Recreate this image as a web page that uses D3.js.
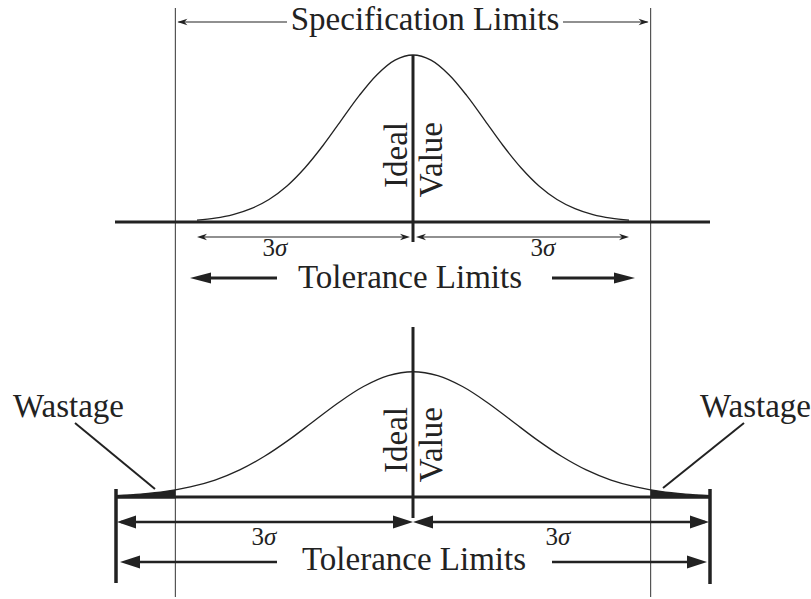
<!DOCTYPE html>
<html>
<head>
<meta charset="utf-8">
<script src="https://cdn.jsdelivr.net/npm/d3@7"></script>
<style>
  html, body { margin: 0; padding: 0; background: #fff; }
  svg { display: block; }
</style>
</head>
<body>
<svg id="chart" width="811" height="599"></svg>
<script>
// ---------- data ----------
// standardized positions (in sigma units) along the curve
const zSteps = [-3, -2.75, -2.5, -2.25, -2, -1.75, -1.5, -1.25, -1, -0.75, -0.5, -0.25, 0,
                0.25, 0.5, 0.75, 1, 1.25, 1.5, 1.75, 2, 2.25, 2.5, 2.75, 3];
// relative curve heights (peak = 1)
const curveHeights = [0.011, 0.023, 0.044, 0.080, 0.135, 0.216, 0.325, 0.458, 0.607, 0.755, 0.882, 0.969, 1.0,
                      0.969, 0.882, 0.755, 0.607, 0.458, 0.325, 0.216, 0.135, 0.080, 0.044, 0.023, 0.011];
const idealValue = 0;
const processSigma = [1.0, 1.375];      // top panel, bottom panel
const processPeak = [1.0, 0.75];        // relative peak height of each curve
const specLimits = [-3.3, 3.3];
const sigmaLabel = "3";
const texts = {
  spec: "Specification Limits",
  tol: "Tolerance Limits",
  ideal: "Ideal",
  value: "Value",
  waste: "Wastage"
};

// ---------- layout ----------
const svg = d3.select("#chart");
const FONT = "'Liberation Serif', 'Times New Roman', serif";
const INK = "#222";

const x = d3.scaleLinear().domain([-4.125, 4.125]).range([116, 710]);
const yTop = d3.scaleLinear().domain([0, 1]).range([222, 55]);
const yBot = d3.scaleLinear().domain([0, 1]).range([497, 330]);

function head(g, tipX, y, dir, len, hw, notch) {
  // dir = -1 points left, +1 points right
  const bx = tipX - dir * len;
  const nx = tipX - dir * len * (1 - notch);
  g.append("path")
    .attr("d", `M${tipX},${y} L${bx},${y - hw} L${nx},${y} L${bx},${y + hw} Z`)
    .attr("fill", INK);
}
function shaft(g, x1, x2, y, w) {
  g.append("line").attr("x1", x1).attr("x2", x2).attr("y1", y).attr("y2", y)
    .attr("stroke", INK).attr("stroke-width", w);
}
function vline(g, xx, y1, y2, w, col) {
  g.append("line").attr("x1", xx).attr("x2", xx).attr("y1", y1).attr("y2", y2)
    .attr("stroke", col || INK).attr("stroke-width", w);
}
function label(g, txt, xx, yy, size, anchor) {
  return g.append("text").attr("x", xx).attr("y", yy)
    .attr("font-family", FONT).attr("font-size", size)
    .attr("text-anchor", anchor || "middle").attr("fill", INK).text(txt);
}
function sigmaText(g, xx, yy) {
  const t = g.append("text").attr("x", xx).attr("y", yy)
    .attr("font-family", FONT).attr("font-size", 25)
    .attr("text-anchor", "middle").attr("fill", INK);
  t.append("tspan").text(sigmaLabel);
  t.append("tspan").attr("font-style", "italic").text("σ");
}

const g = svg.append("g");

// specification limit verticals
specLimits.forEach(s => vline(g, x(s), 8, 597, 1.2, "#555"));

// specification limits arrows + text
label(g, texts.spec, 425, 30, 33);
shaft(g, x(specLimits[0]) + 3, 287, 22, 1.2);
head(g, x(specLimits[0]) + 2, 22, -1, 10, 3.2, 0.3);
shaft(g, 563, x(specLimits[1]) - 3, 22, 1.2);
head(g, x(specLimits[1]) - 2, 22, 1, 10, 3.2, 0.3);

// ---------- top panel ----------
const lineTop = d3.line()
  .x((d, i) => x(idealValue + zSteps[i] * processSigma[0]))
  .y((d) => yTop(d * processPeak[0]))
  .curve(d3.curveCatmullRom);
g.append("path").attr("d", lineTop(curveHeights))
  .attr("fill", "none").attr("stroke", INK).attr("stroke-width", 1.3);

shaft(g, x(-4.125) - 1, x(4.125), yTop(0), 3);
vline(g, x(idealValue), yTop(1), 242, 3);

// ideal / value rotated
g.append("text").attr("transform", `translate(${x(idealValue) - 6},122) rotate(-90)`)
  .attr("font-family", FONT).attr("font-size", 33).attr("text-anchor", "start")
  .attr("fill", INK).attr("x", 0).text(texts.ideal)
  .attr("dx", -66);
g.append("text").attr("transform", `translate(${x(idealValue) + 29},122) rotate(-90)`)
  .attr("font-family", FONT).attr("font-size", 33).attr("text-anchor", "end")
  .attr("fill", INK).text(texts.value);

// 3 sigma arrows (top)
const tL = x(idealValue - 3 * processSigma[0]);
const tR = x(idealValue + 3 * processSigma[0]);
shaft(g, tL + 3, x(idealValue) - 6, 237, 1.2);
head(g, tL, 237, -1, 10, 3.2, 0.3);
head(g, x(idealValue) - 3, 237, 1, 10, 3.2, 0.3);
shaft(g, x(idealValue) + 6, tR - 3, 237, 1.2);
head(g, x(idealValue) + 3, 237, -1, 10, 3.2, 0.3);
head(g, tR, 237, 1, 10, 3.2, 0.3);
sigmaText(g, 275, 256);
sigmaText(g, 543, 256);

// tolerance limits (top)
label(g, texts.tol, 410, 288, 33);
shaft(g, 200, 277, 278, 3);
head(g, 190, 278, -1, 21, 5.5, 0);
shaft(g, 552, 625, 278, 3);
head(g, 635, 278, 1, 21, 5.5, 0);

// ---------- bottom panel ----------
const bx = (i) => x(idealValue + zSteps[i] * processSigma[1]);
const lineBot = d3.line()
  .x((d, i) => bx(i))
  .y((d) => yBot(d * processPeak[1]))
  .curve(d3.curveCatmullRom);
const areaBot = d3.area()
  .x((d, i) => bx(i))
  .y0(yBot(0) + 1.5)
  .y1((d) => yBot(d * processPeak[1]))
  .curve(d3.curveCatmullRom);

const defs = svg.append("defs");
const clip = defs.append("clipPath").attr("id", "waste");
clip.append("rect").attr("x", 0).attr("y", 0).attr("width", x(specLimits[0])).attr("height", 599);
clip.append("rect").attr("x", x(specLimits[1])).attr("y", 0).attr("width", 811 - x(specLimits[1])).attr("height", 599);

g.append("path").attr("d", areaBot(curveHeights)).attr("fill", INK).attr("clip-path", "url(#waste)");
g.append("path").attr("d", lineBot(curveHeights))
  .attr("fill", "none").attr("stroke", INK).attr("stroke-width", 1.3);

shaft(g, x(-4.125), x(4.125), yBot(0), 3);
vline(g, x(idealValue), 327, 518, 3);
vline(g, x(-4.125), 489, 583, 3.5);
vline(g, x(4.125), 489, 584, 3.5);

g.append("text").attr("transform", `translate(${x(idealValue) - 6},407) rotate(-90)`)
  .attr("font-family", FONT).attr("font-size", 33).attr("text-anchor", "end")
  .attr("fill", INK).text(texts.ideal).attr("dx", 0);
g.append("text").attr("transform", `translate(${x(idealValue) + 29},407) rotate(-90)`)
  .attr("font-family", FONT).attr("font-size", 33).attr("text-anchor", "end")
  .attr("fill", INK).text(texts.value);

// 3 sigma arrows (bottom)
const bL = x(idealValue - 3 * processSigma[1]);
const bR = x(idealValue + 3 * processSigma[1]);
shaft(g, bL + 5, x(idealValue) - 10, 522, 2.6);
head(g, bL + 1, 522, -1, 19, 6.5, 0);
head(g, x(idealValue), 522, 1, 20, 6.5, 0);
shaft(g, x(idealValue) + 10, bR - 5, 522, 2.6);
head(g, x(idealValue), 522, -1, 20, 6.5, 0);
head(g, bR - 1, 522, 1, 19, 6.5, 0);
sigmaText(g, 264, 545);
sigmaText(g, 558, 545);

// tolerance limits (bottom)
label(g, texts.tol, 414, 570, 33);
shaft(g, 130, 277, 562, 2.6);
head(g, 120, 562, -1, 20, 6.5, 0);
shaft(g, 552, 697, 562, 2.6);
head(g, 707, 562, 1, 20, 6.5, 0);

// wastage labels + leaders
label(g, texts.waste, 13, 417, 33, "start");
label(g, texts.waste, 700, 417, 33, "start");
g.append("line").attr("x1", 75).attr("y1", 423).attr("x2", 155).attr("y2", 489)
  .attr("stroke", INK).attr("stroke-width", 2);
g.append("line").attr("x1", 744).attr("y1", 423).attr("x2", 663).attr("y2", 488)
  .attr("stroke", INK).attr("stroke-width", 2);
</script>
</body>
</html>
